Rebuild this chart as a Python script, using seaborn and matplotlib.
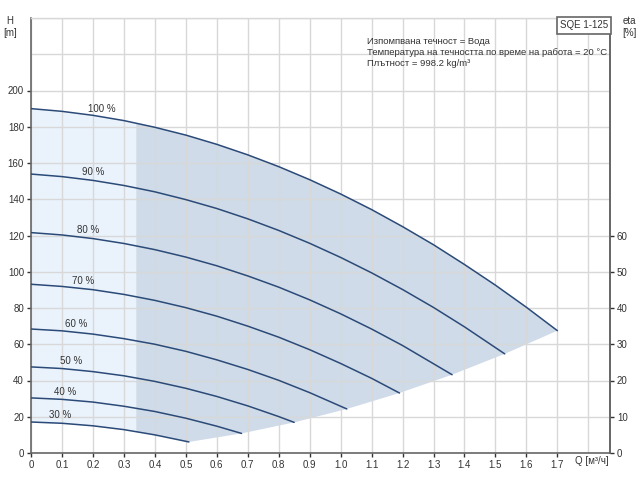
# -*- coding: utf-8 -*-
# SQE 1-125 pump curves (H vs Q) at different speeds

import numpy as np
import pandas as pd
import seaborn as sns
import matplotlib.pyplot as plt

# Curve data (Q in m3/h, H in m)
speeds = ["100 %", "90 %", "80 %", "70 %", "60 %", "50 %", "40 %", "30 %"]

q_100 = [0, 0.1, 0.2, 0.3, 0.4, 0.5, 0.6, 0.7, 0.8, 0.9, 1.0, 1.1, 1.2, 1.3, 1.4, 1.5, 1.6, 1.7]
h_100 = [190, 188.5, 186.3, 183.4, 179.7, 175.4, 170.3, 164.5, 158.0, 150.8, 142.9, 134.3,
         124.9, 114.9, 104.0, 92.6, 80.4, 67.5]

q_90 = [0, 0.1, 0.2, 0.3, 0.4, 0.5, 0.6, 0.7, 0.8, 0.9, 1.0, 1.1, 1.2, 1.3, 1.4, 1.53]
h_90 = [153.9, 152.5, 150.4, 147.6, 144.1, 139.8, 134.9, 129.2, 122.8, 115.7, 107.9, 99.4,
        90.2, 80.3, 69.6, 54.7]

q_80 = [0, 0.1, 0.2, 0.3, 0.4, 0.5, 0.6, 0.7, 0.8, 0.9, 1.0, 1.1, 1.2, 1.36]
h_80 = [121.6, 120.3, 118.3, 115.6, 112.2, 108.1, 103.3, 97.7, 91.5, 84.5, 76.8, 68.4, 59.3, 43.2]

q_70 = [0, 0.1, 0.2, 0.3, 0.4, 0.5, 0.6, 0.7, 0.8, 0.9, 1.0, 1.1, 1.19]
h_70 = [93.1, 91.9, 90.1, 87.5, 84.2, 80.2, 75.5, 70.0, 63.9, 57.0, 49.4, 41.2, 33.1]

q_60 = [0, 0.1, 0.2, 0.3, 0.4, 0.5, 0.6, 0.7, 0.8, 0.9, 1.02]
h_60 = [68.4, 67.4, 65.6, 63.1, 60.0, 56.1, 51.4, 46.1, 40.1, 33.3, 24.3]

q_50 = [0, 0.1, 0.2, 0.3, 0.4, 0.5, 0.6, 0.7, 0.8, 0.85]
h_50 = [47.5, 46.6, 44.9, 42.6, 39.5, 35.7, 31.2, 26.0, 20.1, 16.9]

q_40 = [0, 0.1, 0.2, 0.3, 0.4, 0.5, 0.6, 0.68]
h_40 = [30.4, 29.6, 28.1, 25.8, 22.9, 19.2, 14.8, 10.8]

q_30 = [0, 0.1, 0.2, 0.3, 0.4, 0.51]
h_30 = [17.1, 16.4, 15.0, 12.9, 10.0, 6.1]

q_min = 0.34  # start of the recommended duty range

x_ticks = [0, 0.1, 0.2, 0.3, 0.4, 0.5, 0.6, 0.7, 0.8, 0.9, 1.0, 1.1, 1.2, 1.3, 1.4, 1.5, 1.6, 1.7]
h_ticks = [0, 20, 40, 60, 80, 100, 120, 140, 160, 180, 200]
eta_ticks = [0, 10, 20, 30, 40, 50, 60]

info_lines = [
    "Изпомпвана течност = Вода",
    "Температура на течността по време на работа = 20 °C",
    "Плътност = 998.2 kg/m³",
]

curves = list(zip(speeds, [q_100, q_90, q_80, q_70, q_60, q_50, q_40, q_30],
                  [h_100, h_90, h_80, h_70, h_60, h_50, h_40, h_30]))
df = pd.concat([pd.DataFrame({"Q": q, "H": h, "speed": s}) for s, q, h in curves],
               ignore_index=True)

# Style
sns.set_theme(style="whitegrid")
plt.rcParams["font.family"] = ["Liberation Sans", "DejaVu Sans"]
line_col = "#2b4a78"
txt_col = "#333333"
spine_col = "#666666"
grid_col = "#d8d8d8"

fig = plt.figure(figsize=(6.4, 4.8), dpi=100)
ax = fig.add_axes([31 / 640, 1 - 453 / 480, (610 - 31) / 640, (453 - 18) / 480])

# light area (below min flow)
qa = np.linspace(0, q_min, 40)
ax.fill_between(qa, np.interp(qa, q_30, h_30), np.interp(qa, q_100, h_100),
                color="#eaf3fc", lw=0, zorder=1)

# dark area (operating range)
qb = np.linspace(q_min, q_100[-1], 120)
ends_q = [q[-1] for _, q, _ in curves]
ends_h = [h[-1] for _, _, h in curves]
qc = np.linspace(q_30[-1], q_min, 20)
poly_q = list(qb) + ends_q[1:] + list(qc)
poly_h = list(np.interp(qb, q_100, h_100)) + ends_h[1:] + list(np.interp(qc, q_30, h_30))
ax.fill(poly_q, poly_h, color="#cfdbe8", lw=0, zorder=1)

sns.lineplot(data=df, x="Q", y="H", hue="speed", palette=[line_col] * len(speeds),
             estimator=None, sort=False, legend=False, lw=1.1, ax=ax, zorder=3)

label_q = [0.228, 0.2, 0.184, 0.168, 0.145, 0.128, 0.111, 0.094]
for (s, q, h), lq in zip(curves, label_q):
    ax.annotate(s, (lq, np.interp(lq, q, h)), xytext=(0, 8), textcoords="offset pixels",
                ha="center", va="center", fontsize=7, color=txt_col, zorder=4)

ax.set_xlim(0, 1.87)
ax.set_ylim(0, 240)
ax.set_xticks(x_ticks)
ax.set_xticklabels([f"{t:.1f}" if t else "0" for t in x_ticks])
ax.set_xticks([1.8], minor=True)
ax.set_yticks(h_ticks)
ax.set_yticklabels([str(t) for t in h_ticks])
ax.set_yticks([220, 240], minor=True)
ax.set_xlabel("")
ax.set_ylabel("")
ax.set_axisbelow("line")
ax.grid(True, which="both", color=grid_col, lw=1)
ax.tick_params(axis="both", which="major", labelsize=7, colors=txt_col, length=3,
               width=1, pad=2, direction="out", bottom=True, left=True)
ax.tick_params(axis="both", which="minor", length=0)
for side in ["left", "bottom", "right"]:
    ax.spines[side].set_color(spine_col)
    ax.spines[side].set_linewidth(1.2)
ax.spines["top"].set_color(grid_col)
ax.spines["top"].set_linewidth(1)

# eta axis on the right
ax2 = ax.twinx()
ax2.set_ylim(0, 120)
ax2.set_yticks(eta_ticks)
ax2.set_yticklabels([str(t) for t in eta_ticks])
ax2.grid(False)
ax2.tick_params(axis="y", labelsize=7, colors=txt_col, length=3, width=1, pad=2,
                direction="out", right=True)
for side in ["left", "bottom", "top"]:
    ax2.spines[side].set_visible(False)
ax2.spines["right"].set_color(spine_col)
ax2.spines["right"].set_linewidth(1.2)

# axis titles
fig.text(10 / 640, 1 - 27 / 480, "H\n[m]", ha="center", va="center", fontsize=7,
         color=txt_col, linespacing=1.3)
fig.text(629 / 640, 1 - 27 / 480, "eta\n[%]", ha="center", va="center", fontsize=7,
         color=txt_col, linespacing=1.3)
fig.text(575 / 640, 1 - 461 / 480, "Q [м³/ч]", ha="left", va="center", fontsize=7,
         color=txt_col)

# info text and product box
fig.text(367 / 640, 1 - 52.5 / 480, "\n".join(info_lines), ha="left", va="center",
         fontsize=6.8, color=txt_col, linespacing=1.28)
fig.text(584 / 640, 1 - 25.5 / 480, "SQE 1-125", ha="center", va="center", fontsize=7,
         color=txt_col, zorder=5,
         bbox=dict(boxstyle="square,pad=0.35", fc="white", ec=spine_col, lw=1.2))

plt.savefig("out.png", dpi=100)
